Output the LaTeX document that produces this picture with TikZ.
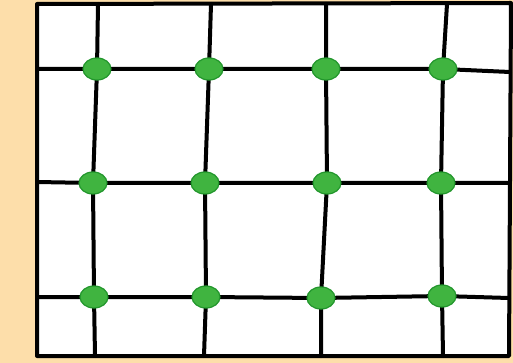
\documentclass[tikz,border=0pt]{standalone}
\definecolor{peach}{RGB}{253,222,170}
\definecolor{dotfill}{RGB}{64,180,64}
\definecolor{dotedge}{RGB}{34,150,44}
\tikzset{
  gridline/.style={line width=4pt, black, line cap=round, line join=round},
  gdot/.style={ellipse, minimum width=28pt, minimum height=22pt, inner sep=0pt, fill=dotfill, draw=dotedge, line width=1.2pt},
}
\usetikzlibrary{shapes.geometric}
\begin{document}
\begin{tikzpicture}[x=1pt,y=-1pt]
\fill[peach] (0,0) rectangle (513,363);
\useasboundingbox (0,0) rectangle (513,363);
% border corners
\coordinate (TL) at (37,4);
\coordinate (TR) at (511,3);
\coordinate (BR) at (509,356);
\coordinate (BL) at (37,356);
\fill[white] (TL) -- (TR) -- (BR) -- (BL) -- cycle;
% intersections
\coordinate (p11) at (97,69);  \coordinate (p12) at (209,69);  \coordinate (p13) at (326,69);  \coordinate (p14) at (443,69);
\coordinate (p21) at (93,183); \coordinate (p22) at (205,183); \coordinate (p23) at (327,183); \coordinate (p24) at (441,183);
\coordinate (p31) at (94,297); \coordinate (p32) at (206,297); \coordinate (p33) at (321,298); \coordinate (p34) at (442,296);
% border ends of lines
\coordinate (l1) at (37,69);  \coordinate (r1) at (510,72);
\coordinate (l2) at (37,182); \coordinate (r2) at (510,183);
\coordinate (l3) at (37,297); \coordinate (r3) at (509,298);
\coordinate (t1) at (98,4);  \coordinate (b1) at (95,356);
\coordinate (t2) at (211,4); \coordinate (b2) at (204,356);
\coordinate (t3) at (326,4); \coordinate (b3) at (321,356);
\coordinate (t4) at (447,4); \coordinate (b4) at (443,356);
% grid lines
\draw[gridline] (l1) -- (p11) -- (p12) -- (p13) -- (p14) -- (r1);
\draw[gridline] (l2) -- (p21) -- (p22) -- (p23) -- (p24) -- (r2);
\draw[gridline] (l3) -- (p31) -- (p32) -- (p33) -- (p34) -- (r3);
\draw[gridline] (t1) -- (p11) -- (p21) -- (p31) -- (b1);
\draw[gridline] (t2) -- (p12) -- (p22) -- (p32) -- (b2);
\draw[gridline] (t3) -- (p13) -- (p23) -- (p33) -- (b3);
\draw[gridline] (t4) -- (p14) -- (p24) -- (p34) -- (b4);
\draw[gridline] (TL) -- (TR) -- (BR) -- (BL) -- cycle;
% dots
\foreach \r in {1,2,3}{\foreach \c in {1,2,3,4}{\node[gdot] (d\r\c) at (p\r\c) {};}}
\end{tikzpicture}
\end{document}
